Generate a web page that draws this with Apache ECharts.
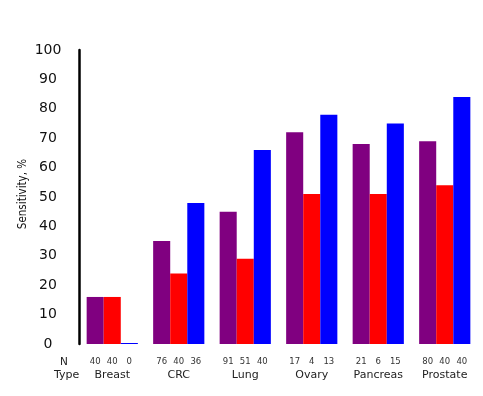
<!DOCTYPE html>
<html>
<head>
<meta charset="utf-8">
<script src="https://cdn.jsdelivr.net/npm/echarts@6/dist/echarts.min.js"></script>
<style>
  html, body { margin: 0; padding: 0; background: #fff; }
  #chart { width: 483px; height: 396px; }
</style>
</head>
<body>
<div id="chart"></div>
<script>
const types = ["Breast", "CRC", "Lung", "Ovary", "Pancreas", "Prostate"];
const yTicks = [0, 10, 20, 30, 40, 50, 60, 70, 80, 90, 100];

// sensitivity (%) per series
const purpleValues = [16, 35, 45, 72, 68, 69];
const redValues = [16, 24, 29, 51, 51, 54];
const blueValues = [0, 48, 66, 78, 75, 84];

// N per bar
const purpleN = [40, 76, 91, 17, 21, 80];
const redN = [40, 40, 51, 4, 6, 40];
const blueN = [0, 36, 40, 13, 15, 40];

const myChart = echarts.init(document.getElementById("chart"));

function makeSeries(values, counts, color) {
  return {
    type: "bar",
    data: values,
    barGap: "0%",
    barCategoryGap: "23%",
    barMinHeight: 1,
    itemStyle: {
      color: color
    },
    label: {
      show: true,
      position: "bottom",
      distance: 13,
      formatter: p => String(counts[p.dataIndex]),
      fontFamily: "DejaVu Sans",
      fontSize: 8.5,
      color: "#333"
    }
  };
}

myChart.setOption({
  animation: false,
  grid: {
    left: 79,
    top: 50,
    width: 399,
    height: 294,
    containLabel: false
  },
  xAxis: {
    type: "category",
    data: types,
    axisLine: { show: false },
    axisTick: { show: false },
    axisLabel: {
      margin: 26,
      fontFamily: "DejaVu Sans",
      fontSize: 11,
      color: "#222"
    }
  },
  yAxis: {
    type: "value",
    min: yTicks[0],
    max: yTicks[yTicks.length - 1],
    interval: 10,
    name: "Sensitivity, %",
    nameLocation: "middle",
    nameRotate: 90,
    nameGap: 50,
    nameMoveOverlap: false,
    nameTextStyle: {
      fontFamily: "DejaVu Sans Condensed, Liberation Sans, sans-serif",
      fontSize: 11.5,
      color: "#111",
      padding: [0, 0, 0, 6]
    },
    axisLine: { show: true, lineStyle: { color: "#000", width: 2.5 } },
    axisTick: { show: false },
    splitLine: { show: false },
    axisLabel: {
      margin: 31,
      align: "center",
      fontFamily: "DejaVu Sans",
      fontSize: 14,
      color: "#111"
    }
  },
  graphic: [
    {
      type: "text",
      left: 60,
      top: 357,
      style: { text: "N", fontFamily: "DejaVu Sans", fontSize: 10.5, fill: "#222" }
    },
    {
      type: "text",
      left: 54,
      top: 370,
      style: { text: "Type", fontFamily: "DejaVu Sans", fontSize: 11, fill: "#222" }
    }
  ],
  series: [
    makeSeries(purpleValues, purpleN, "#800080"),
    makeSeries(redValues, redN, "#ff0000"),
    makeSeries(blueValues, blueN, "#0000ff")
  ]
});
</script>
</body>
</html>
